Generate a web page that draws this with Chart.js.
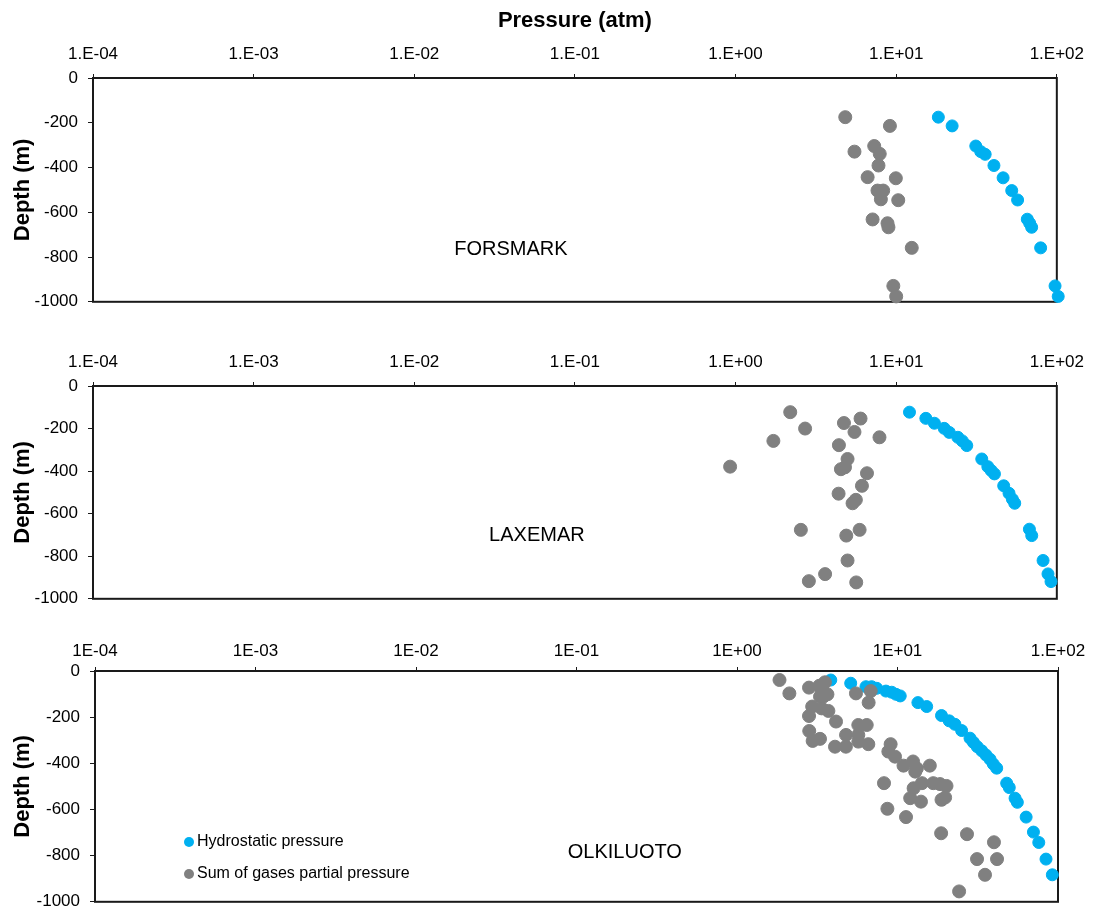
<!DOCTYPE html>
<html>
<head>
<meta charset="utf-8">
<title>Pressure vs depth</title>
<script src="https://cdn.jsdelivr.net/npm/chart.js@4/dist/chart.umd.min.js"></script>
<style>
  html, body { margin: 0; padding: 0; background: #fff; overflow: hidden; }
  #wrap { position: relative; width: 1093px; height: 910px; overflow: hidden; }
  .panel { position: absolute; left: 0; width: 1093px; }
</style>
</head>
<body>
<div id="wrap">
  <div class="panel" style="top:0;height:322px"><canvas id="forsmarkChart"></canvas></div>
  <div class="panel" style="top:320px;height:299px"><canvas id="laxemarChart"></canvas></div>
  <div class="panel" style="top:610px;height:312px"><canvas id="olkiluotoChart"></canvas></div>
</div>
<script>
// pressure ticks (atm), one per decade
var decadeTicks = [1e-4, 1e-3, 1e-2, 1e-1, 1e0, 1e1, 1e2];
var depthTicks = [0, -200, -400, -600, -800, -1000];
var tickLabelsDot = ["1.E-04", "1.E-03", "1.E-02", "1.E-01", "1.E+00", "1.E+01", "1.E+02"];
var tickLabelsPlain = ["1E-04", "1E-03", "1E-02", "1E-01", "1E+00", "1E+01", "1.E+02"];

var seriesNames = ["Hydrostatic pressure", "Sum of gases partial pressure"];

// FORSMARK
var forsmarkHydroP = [18.3, 22.3, 31.3, 33.6, 35.8, 40.6, 46.3, 52.4, 57.0, 65.5, 67.8, 69.7, 79.3, 97.5, 102];
var forsmarkHydroDepth = [-175, -214, -304, -329, -341, -391, -446, -503, -545, -631, -649, -667, -759, -929, -976];
var forsmarkGasP = [4.82, 9.14, 7.3, 5.5, 7.9, 7.76, 6.64, 9.95, 7.65, 8.3, 8.03, 10.3, 7.13, 8.83, 8.95, 12.5, 9.6, 10.0];
var forsmarkGasDepth = [-175, -214, -304, -329, -339, -391, -443, -448, -503, -503, -542, -546, -632, -649, -667, -759, -929, -976];

// LAXEMAR
var laxemarHydroP = [12.1, 15.3, 17.3, 19.9, 21.4, 24.2, 25.8, 27.5, 34.1, 37.2, 39.0, 40.9, 46.7, 50.4, 52.9, 54.7, 67.5, 69.8, 82.1, 88.1, 92.0];
var laxemarHydroDepth = [-123, -152, -175, -199, -218, -241, -258, -280, -343, -379, -397, -413, -469, -504, -532, -551, -673, -703, -820, -883, -919];
var laxemarGasP = [2.19, 2.71, 1.72, 0.925, 4.73, 6.0, 5.5, 7.87, 4.4, 4.98, 4.53, 4.8, 6.58, 6.12, 4.38, 5.61, 5.35, 2.55, 5.92, 4.89, 4.98, 3.61, 2.86, 5.64];
var laxemarGasDepth = [-123, -200, -258, -379, -174, -153, -216, -241, -278, -343, -391, -382, -410, -469, -506, -535, -551, -676, -676, -703, -820, -884, -917, -923];

// OLKILUOTO
var olkiluotoHydroP = [3.84, 5.11, 6.36, 6.9, 7.42, 8.47, 9.2, 9.79, 10.4, 13.4, 15.2, 18.8, 21.0, 22.8, 25.1, 28.3, 29.7, 31.4, 33.5, 35.6, 37.7, 39.5, 41.5, 47.9, 49.7, 54.0, 55.8, 63.3, 70.3, 75.9, 84.2, 92.2];
var olkiluotoHydroDepth = [-39, -53, -68, -68, -75, -87, -92, -101, -108, -137, -154, -193, -216, -231, -258, -291, -309, -328, -346, -364, -382, -403, -421, -486, -505, -551, -569, -633, -698, -743, -815, -883];
var olkiluotoGasP = [1.84, 2.12, 2.81, 3.26, 3.53, 3.37, 3.45, 3.66, 3.29, 5.51, 6.81, 6.61, 2.94, 3.37, 3.71, 2.81, 4.14, 5.7, 6.43, 2.82, 4.78, 5.7, 2.96, 3.29, 4.08, 4.77, 5.7, 6.58, 9.06, 8.77, 9.65, 10.9, 12.5, 12.9, 13.2, 15.9, 8.24, 12.6, 14.2, 16.7, 18.4, 20.2, 12.0, 14.0, 18.8, 19.8, 8.65, 11.3, 18.7, 27.1, 39.9, 31.3, 41.7, 35.1, 24.2];
var olkiluotoGasDepth = [-39, -97, -72, -64, -49, -87, -111, -101, -111, -97, -87, -137, -154, -162, -173, -195, -219, -234, -234, -260, -277, -277, -303, -294, -328, -328, -306, -317, -317, -349, -371, -410, -392, -436, -422, -410, -486, -508, -486, -486, -490, -498, -551, -566, -558, -548, -597, -633, -703, -707, -742, -815, -815, -883, -955];

var blue = "#00b0f0";
var grey = "#808080";
var fontFamily = "'Liberation Sans', Arial, sans-serif";

function toPoints(xs, ys) {
  var pts = [];
  for (var i = 0; i < xs.length; i++) pts.push({x: xs[i], y: ys[i]});
  return pts;
}

// site name written inside the plot, placed by data values
var siteLabelPlugin = {
  id: 'siteLabel',
  afterDatasetsDraw: function(chart, args, opts) {
    if (!opts.text) return;
    var ctx = chart.ctx;
    ctx.save();
    ctx.font = "20px " + fontFamily;
    ctx.fillStyle = "#000";
    ctx.textAlign = "center";
    ctx.textBaseline = "middle";
    ctx.fillText(opts.text, chart.scales.x.getPixelForValue(opts.x), chart.scales.y.getPixelForValue(opts.y));
    ctx.restore();
  }
};

// black frame round the plot area
var frameplugin = {
  id: 'frame',
  beforeDatasetsDraw: function(chart) {
    var a = chart.chartArea, ctx = chart.ctx;
    ctx.save();
    ctx.strokeStyle = "#1a1a1a";
    ctx.lineWidth = 2;
    ctx.strokeRect(a.left, a.top, a.right - a.left, a.bottom - a.top);
    ctx.restore();
  }
};

// small legend drawn inside the chart area
var insideLegendPlugin = {
  id: 'insideLegend',
  afterDatasetsDraw: function(chart, args, opts) {
    if (!opts.show) return;
    var a = chart.chartArea, ctx = chart.ctx;
    var colors = [blue, grey];
    ctx.save();
    ctx.font = "16px " + fontFamily;
    ctx.textBaseline = "middle";
    for (var i = 0; i < seriesNames.length; i++) {
      var cx = a.left + 94, cy = a.top + 171 + i * 32;
      ctx.fillStyle = colors[i];
      ctx.beginPath();
      ctx.arc(cx, cy, 5, 0, Math.PI * 2);
      ctx.fill();
      ctx.fillStyle = "#000";
      ctx.fillText(seriesNames[i], cx + 8, cy);
    }
    ctx.restore();
  }
};

function makePanel(canvasId, hydroP, hydroD, gasP, gasD, cfg) {
  var ctx = document.getElementById(canvasId).getContext("2d");
  return new Chart(ctx, {
    type: "scatter",
    data: {
      datasets: [
        {
          label: seriesNames[0],
          data: toPoints(hydroP, hydroD),
          backgroundColor: blue,
          borderColor: blue,
          pointRadius: 6,
          pointHoverRadius: 6,
          clip: false,
          order: 2
        },
        {
          label: seriesNames[1],
          data: toPoints(gasP, gasD),
          backgroundColor: grey,
          borderColor: grey,
          pointRadius: 6.5,
          pointHoverRadius: 6.5,
          clip: false,
          order: 1
        }
      ]
    },
    options: {
      responsive: true,
      maintainAspectRatio: false,
      animation: false,
      layout: { padding: { left: 0, top: 0, right: 35, bottom: 0 } },
      plugins: {
        legend: { display: false },
        tooltip: { enabled: false },
        siteLabel: cfg.site,
        insideLegend: { show: !!cfg.legend }
      },
      scales: {
        x: {
          type: "logarithmic",
          position: "top",
          min: 1e-4,
          max: 1e2,
          afterBuildTicks: function(scale) {
            scale.ticks = decadeTicks.map(function(v) { return {value: v}; });
          },
          afterFit: function(scale) { scale.height = cfg.topHeight; },
          ticks: {
            autoSkip: false,
            maxRotation: 0,
            color: "#000",
            padding: cfg.tickPad,
            font: { family: fontFamily, size: 17 },
            callback: function(value, index) { return cfg.labels[index]; }
          },
          grid: { display: true, drawOnChartArea: false, drawTicks: true, tickLength: 4, color: "#1a1a1a" },
          border: { display: true, color: "#1a1a1a", width: 2 },
          title: {
            display: !!cfg.title,
            text: cfg.title || "",
            color: "#000",
            padding: { top: 8, bottom: 0 },
            font: { family: fontFamily, size: 22, weight: "bold" }
          }
        },
        y: {
          min: -1000,
          max: 0,
          afterBuildTicks: function(scale) {
            scale.ticks = depthTicks.map(function(v) { return {value: v}; });
          },
          afterFit: function(scale) { scale.width = cfg.leftWidth; },
          ticks: {
            color: "#000",
            padding: 10,
            font: { family: fontFamily, size: 17 },
            callback: function(value) { return String(value); }
          },
          grid: { display: true, drawOnChartArea: false, drawTicks: true, tickLength: 5, color: "#1a1a1a" },
          border: { display: true, color: "#1a1a1a", width: 2 },
          title: {
            display: true,
            text: "Depth (m)",
            color: "#000",
            padding: { top: 10, bottom: 0 },
            font: { family: fontFamily, size: 22, weight: "bold" }
          }
        }
      }
    },
    plugins: [frameplugin, siteLabelPlugin, insideLegendPlugin]
  });
}

makePanel("forsmarkChart", forsmarkHydroP, forsmarkHydroDepth, forsmarkGasP, forsmarkGasDepth, {
  labels: tickLabelsDot, title: "Pressure (atm)", topHeight: 78, leftWidth: 93, tickPad: 9,
  site: { text: "FORSMARK", x: 0.04, y: -768 }
});

makePanel("laxemarChart", laxemarHydroP, laxemarHydroDepth, laxemarGasP, laxemarGasDepth, {
  labels: tickLabelsDot, topHeight: 66, leftWidth: 93, tickPad: 9,
  site: { text: "LAXEMAR", x: 0.058, y: -704 }
});

makePanel("olkiluotoChart", olkiluotoHydroP, olkiluotoHydroDepth, olkiluotoGasP, olkiluotoGasDepth, {
  labels: tickLabelsPlain, topHeight: 61, leftWidth: 95, tickPad: 5, legend: true,
  site: { text: "OLKILUOTO", x: 0.2, y: -788 }
});
</script>
</body>
</html>
